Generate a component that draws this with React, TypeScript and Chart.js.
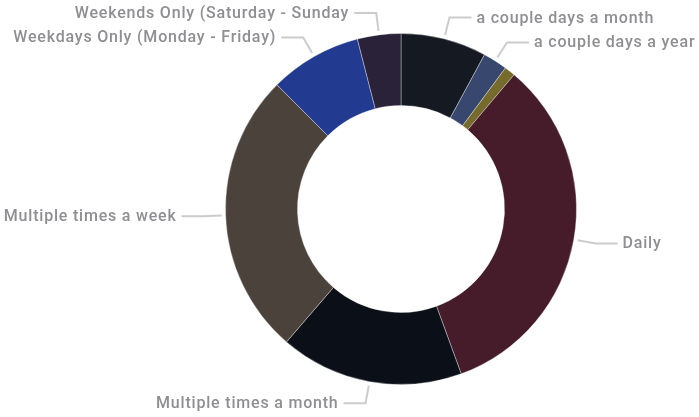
import React, { useEffect, useRef } from "react";
import { Chart, registerables } from "chart.js";

Chart.register(...registerables);

const categories = [
  "a couple days a month",
  "a couple days a year",
  "Other",
  "Daily",
  "Multiple times a month",
  "Multiple times a week",
  "Weekdays Only (Monday - Friday)",
  "Weekends Only (Saturday - Sunday",
];
const values = [7.9, 2.25, 1.0, 33.3, 16.9, 26.2, 8.5, 4.0];
const colors = [
  "#151a22",
  "#37476e",
  "#766a2c",
  "#461c2b",
  "#0b0f18",
  "#4b423b",
  "#223a90",
  "#2a2238",
];
const LABEL_MIN_SHARE = 0.015;

const outsideLabels = {
  id: "outsideLabels",
  afterDatasetsDraw(chart: any) {
    const ctx = chart.ctx;
    const meta = chart.getDatasetMeta(0);
    const data = chart.data.datasets[0].data as number[];
    const total = data.reduce((a: number, b: number) => a + b, 0);
    ctx.save();
    ctx.font = "500 16px Roboto";
    try {
      (ctx as any).letterSpacing = "0.8px";
    } catch (e) {}
    ctx.textBaseline = "middle";
    meta.data.forEach((arc: any, i: number) => {
      if (data[i] / total < LABEL_MIN_SHARE) return;
      const { x, y, startAngle, endAngle, outerRadius } = arc.getProps(
        ["x", "y", "startAngle", "endAngle", "outerRadius"],
        true
      );
      const a = (startAngle + endAngle) / 2;
      const c = Math.cos(a);
      const s = Math.sin(a);
      const r1 = outerRadius + 4;
      const r2 = outerRadius + 22;
      const x1 = x + c * r1;
      const y1 = y + s * r1;
      const x2 = x + c * r2;
      const y2 = y + s * r2;
      const right = c >= 0;
      const x3 = x2 + (right ? 22 : -22);
      ctx.strokeStyle = "#cccccc";
      ctx.lineWidth = 2;
      ctx.beginPath();
      ctx.moveTo(x1, y1);
      ctx.lineTo(x2, y2);
      ctx.lineTo(x3, y2);
      ctx.stroke();
      ctx.fillStyle = "#8e8e93";
      ctx.textAlign = right ? "left" : "right";
      ctx.fillText(chart.data.labels[i], x3 + (right ? 5 : -5), y2 + 1);
    });
    ctx.restore();
  },
};

export default function App() {
  const ref = useRef<HTMLCanvasElement>(null);
  useEffect(() => {
    if (!ref.current) return;
    const chart = new Chart(ref.current, {
      type: "doughnut",
      data: {
        labels: categories,
        datasets: [
          {
            data: values,
            backgroundColor: colors,
            borderColor: "rgba(255,255,255,0.35)",
            borderWidth: 1,
          },
        ],
      },
      options: {
        animation: false,
        responsive: false,
        cutout: "59%",
        layout: { padding: { left: 225, right: 122, top: 33, bottom: 32 } },
        plugins: {
          legend: { display: false },
          tooltip: { enabled: false },
        },
      },
      plugins: [outsideLabels],
    });
    return () => chart.destroy();
  }, []);
  return (
    <div style={{ position: "fixed", left: 0, top: 0, width: 699, height: 417, background: "#fff" }}>
      <canvas ref={ref} width={699} height={417} style={{ width: 699, height: 417 }} />
    </div>
  );
}
